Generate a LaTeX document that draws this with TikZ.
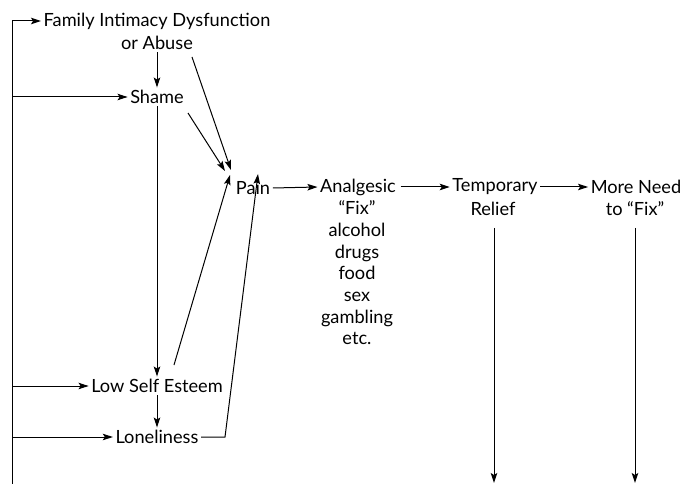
\documentclass[tikz,border=0pt]{standalone}
\usepackage{fontspec}
\setmainfont{Lato}
\usetikzlibrary{arrows.meta}
\begin{document}
\begin{tikzpicture}[x=1pt,y=-1pt,
  lbl/.style={inner sep=2.5pt,font=\fontsize{18.2}{21.7}\selectfont,align=center},
  arr/.style={-{Stealth[length=10pt,width=6.5pt,inset=2pt]},line width=1pt},
  ln/.style={line width=1pt}]
\useasboundingbox (0,0) rectangle (686,484);
% nodes
\node[lbl] (fam1) at (157,21) {Family Intimacy Dysfunction};
\node[lbl] (fam2) at (157,43) {or Abuse};
\node[lbl] (shame) at (157,97) {Shame};
\node[lbl] (lse) at (157,386) {Low Self Esteem};
\node[lbl] (lone) at (157,437) {Loneliness};
\node[lbl] (pain) at (253,188) {Pain};
\node[lbl] (anal) at (358,187) {Analgesic};
\node[lbl,anchor=north] (list) at (357,198) {``Fix''\\alcohol\\drugs\\food\\sex\\gambling\\etc.};
\node[lbl] (temp) at (495,187) {Temporary};
\node[lbl] (relief) at (493,209) {Relief};
\node[lbl] (more) at (636,187) {More Need};
\node[lbl] (tofix) at (635,209) {to ``Fix''};
% coordinates
\coordinate (lt) at (12,21);
\coordinate (lb) at (12,484);
\coordinate (l2) at (12,97);
\coordinate (l3) at (12,386);
\coordinate (l4) at (12,437);
\coordinate (famA) at (192,57);
\coordinate (painA) at (231,170);
\coordinate (shameA) at (188,113);
\coordinate (painB) at (225,171);
\coordinate (lseA) at (174,365);
\coordinate (painC) at (230,175);
\coordinate (loneA) at (225,437);
\coordinate (painD) at (258,174);
\coordinate (relA) at (494,228);
\coordinate (relB) at (494,483);
\coordinate (fixA) at (635,228);
\coordinate (fixB) at (635,483);
% left feedback line
\draw[ln] (lb) -- (lt);
\draw[arr] (lt) -- (fam1.west);
\draw[arr] (l2) -- (shame.west);
\draw[arr] (l3) -- (lse.west);
\draw[arr] (l4) -- (lone.west);
% vertical chain
\draw[arr] (fam2.south) -- (shame.north);
\draw[arr] (shame.south) -- (lse.north);
\draw[arr] (lse.south) -- (lone.north);
% to pain
\draw[arr] (famA) -- (painA);
\draw[arr] (shameA) -- (painB);
\draw[arr] (lseA) -- (painC);
\draw[arr] (lone.east) -- (loneA) -- (painD);
% main chain
\draw[arr] (pain.east) -- (anal.west);
\draw[arr] ([xshift=2pt]anal.east) -- (temp.west);
\draw[arr] (temp.east) -- (more.west);
% down arrows
\draw[arr] (relA) -- (relB);
\draw[arr] (fixA) -- (fixB);
\end{tikzpicture}
\end{document}
